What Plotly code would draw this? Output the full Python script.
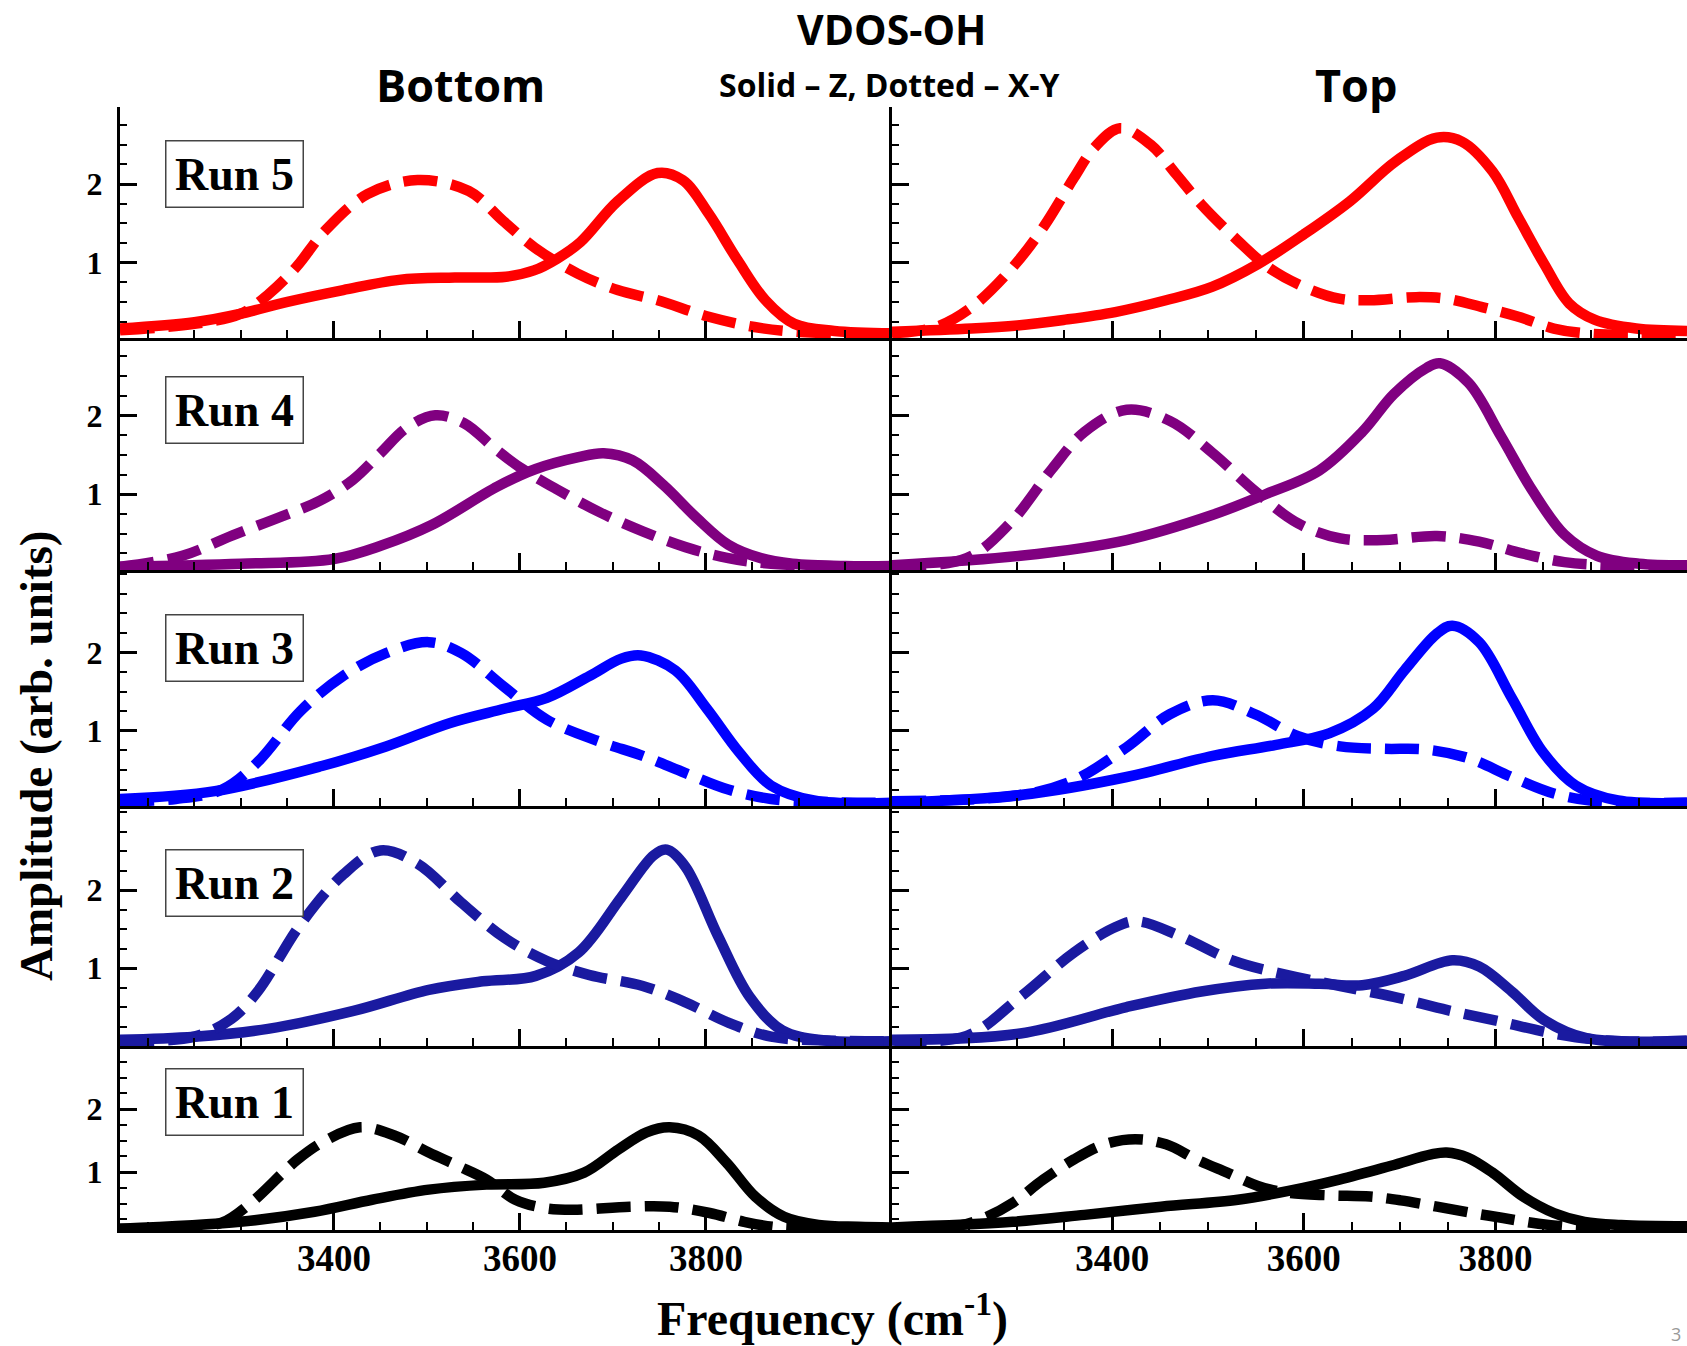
import plotly.graph_objects as go

W, H = 1687, 1346

# ---- axes ------------------------------------------------------------
X_RANGE = [3170, 4000]
X_TICKS = [3400, 3600, 3800]
Y_TICKS = [1, 2]

RUNS = ["Run 5", "Run 4", "Run 3", "Run 2", "Run 1"]
RUN_COLORS = ["#ff0000", "#800080", "#0000ff", "#1a1aa0", "#000000"]
Y_RANGES = [[0.04, 2.98], [0.04, 2.98], [0.04, 3.05], [0.0, 3.08], [0.08, 3.0]]

# ---- VDOS-OH spectra: (frequency cm^-1, amplitude) ---------------------
# Bottom layer, Z component (solid)
BOTTOM_RUN5_Z = [(3170, 0.16), (3250, 0.24), (3300, 0.35), (3350, 0.5), (3410, 0.65), (3470, 0.78),
                 (3530, 0.81), (3585, 0.82), (3615, 0.9), (3640, 1.05), (3665, 1.26), (3705, 1.78),
                 (3748, 2.14), (3775, 2.05), (3803, 1.62), (3834, 1.03), (3864, 0.52), (3895, 0.22),
                 (3938, 0.13), (4000, 0.1)]
BOTTOM_RUN4_Z = [(3170, 0.08), (3300, 0.12), (3400, 0.18), (3451, 0.35), (3505, 0.61), (3576, 1.1),
                 (3617, 1.32), (3663, 1.47), (3690, 1.52), (3721, 1.43), (3755, 1.11), (3790, 0.7),
                 (3824, 0.36), (3859, 0.19), (3893, 0.12), (3950, 0.09), (4000, 0.09)]
BOTTOM_RUN3_Z = [(3170, 0.13), (3272, 0.23), (3387, 0.55), (3456, 0.8), (3525, 1.1), (3583, 1.28),
                 (3629, 1.42), (3675, 1.7), (3709, 1.92), (3730, 1.96), (3767, 1.77), (3801, 1.28),
                 (3836, 0.72), (3870, 0.3), (3916, 0.11), (4000, 0.08)]
BOTTOM_RUN2_Z = [(3170, 0.08), (3250, 0.12), (3329, 0.22), (3421, 0.45), (3502, 0.72), (3560, 0.83),
                 (3617, 0.9), (3663, 1.2), (3709, 1.91), (3744, 2.45), (3758, 2.52), (3778, 2.3),
                 (3813, 1.41), (3847, 0.63), (3882, 0.2), (3928, 0.07), (4000, 0.06)]
BOTTOM_RUN1_Z = [(3170, 0.1), (3299, 0.21), (3379, 0.37), (3441, 0.56), (3502, 0.72), (3564, 0.8),
                 (3626, 0.83), (3669, 0.99), (3706, 1.36), (3736, 1.63), (3761, 1.71), (3792, 1.58),
                 (3822, 1.15), (3853, 0.61), (3884, 0.29), (3921, 0.16), (3964, 0.13), (4000, 0.12)]

# Bottom layer, X-Y component (dashed)
BOTTOM_RUN5_XY = [(3170, 0.14), (3250, 0.22), (3300, 0.35), (3330, 0.6), (3360, 0.95), (3390, 1.4),
                  (3436, 1.87), (3490, 2.05), (3545, 1.91), (3582, 1.53), (3616, 1.19), (3662, 0.86),
                  (3705, 0.65), (3748, 0.52), (3803, 0.31), (3852, 0.18), (3895, 0.12), (3950, 0.1),
                  (4000, 0.1)]
BOTTOM_RUN4_XY = [(3170, 0.08), (3237, 0.22), (3291, 0.48), (3344, 0.72), (3385, 0.92), (3420, 1.18),
                  (3450, 1.52), (3478, 1.84), (3509, 2.0), (3540, 1.9), (3573, 1.58), (3600, 1.34),
                  (3640, 1.06), (3686, 0.77), (3732, 0.53), (3778, 0.33), (3824, 0.19), (3870, 0.12),
                  (3930, 0.09), (4000, 0.08)]
BOTTOM_RUN3_XY = [(3170, 0.1), (3230, 0.13), (3280, 0.25), (3318, 0.6), (3364, 1.25), (3410, 1.7),
                  (3456, 1.99), (3502, 2.13), (3537, 1.99), (3583, 1.56), (3629, 1.14), (3686, 0.86),
                  (3732, 0.68), (3778, 0.46), (3824, 0.25), (3870, 0.13), (3930, 0.09), (4000, 0.08)]
BOTTOM_RUN2_XY = [(3170, 0.06), (3250, 0.12), (3290, 0.35), (3318, 0.7), (3364, 1.56), (3410, 2.2),
                  (3450, 2.51), (3490, 2.34), (3537, 1.84), (3583, 1.39), (3629, 1.09), (3675, 0.91),
                  (3732, 0.77), (3778, 0.56), (3824, 0.3), (3870, 0.12), (3930, 0.07), (4000, 0.06)]
BOTTOM_RUN1_XY = [(3170, 0.1), (3240, 0.12), (3280, 0.2), (3310, 0.5), (3361, 1.2), (3391, 1.5),
                  (3428, 1.71), (3465, 1.58), (3502, 1.31), (3533, 1.1), (3564, 0.88), (3595, 0.56),
                  (3626, 0.43), (3656, 0.4), (3718, 0.45), (3761, 0.45), (3804, 0.35), (3841, 0.21),
                  (3872, 0.13), (3920, 0.1), (4000, 0.1)]

# Top layer, Z component (solid)
TOP_RUN5_Z = [(3170, 0.12), (3253, 0.16), (3301, 0.2), (3349, 0.27), (3403, 0.37), (3456, 0.52),
              (3504, 0.69), (3552, 0.98), (3600, 1.36), (3648, 1.78), (3696, 2.29), (3739, 2.59),
              (3765, 2.54), (3797, 2.16), (3824, 1.57), (3851, 0.98), (3877, 0.48), (3904, 0.27),
              (3947, 0.16), (4000, 0.13)]
TOP_RUN4_Z = [(3170, 0.1), (3304, 0.22), (3415, 0.42), (3505, 0.74), (3560, 1.0), (3616, 1.3),
              (3661, 1.79), (3694, 2.27), (3728, 2.6), (3742, 2.66), (3772, 2.41), (3806, 1.73),
              (3839, 1.04), (3872, 0.49), (3906, 0.22), (3950, 0.12), (4000, 0.1)]
TOP_RUN3_Z = [(3170, 0.08), (3304, 0.18), (3415, 0.41), (3505, 0.68), (3571, 0.82), (3627, 0.97),
              (3672, 1.28), (3705, 1.77), (3739, 2.24), (3755, 2.34), (3783, 2.13), (3817, 1.42),
              (3850, 0.72), (3884, 0.3), (3928, 0.11), (4000, 0.08)]
TOP_RUN2_Z = [(3170, 0.08), (3304, 0.16), (3415, 0.5), (3493, 0.7), (3560, 0.8), (3616, 0.8),
              (3661, 0.78), (3705, 0.9), (3755, 1.1), (3783, 1.02), (3817, 0.7), (3850, 0.34),
              (3895, 0.1), (4000, 0.07)]
TOP_RUN1_Z = [(3170, 0.12), (3296, 0.21), (3371, 0.32), (3451, 0.45), (3531, 0.56), (3584, 0.7),
              (3637, 0.88), (3691, 1.1), (3733, 1.28), (3749, 1.31), (3771, 1.23), (3797, 0.99),
              (3829, 0.61), (3861, 0.35), (3893, 0.21), (3931, 0.16), (4000, 0.14)]

# Top layer, X-Y component (dashed)
TOP_RUN5_XY = [(3170, 0.1), (3216, 0.18), (3253, 0.43), (3296, 0.94), (3328, 1.45), (3360, 2.08),
               (3381, 2.46), (3408, 2.71), (3440, 2.5), (3467, 2.12), (3493, 1.74), (3531, 1.28),
               (3563, 0.94), (3600, 0.69), (3637, 0.54), (3669, 0.52), (3717, 0.56), (3749, 0.54),
               (3787, 0.43), (3824, 0.31), (3861, 0.16), (3893, 0.1), (3950, 0.08), (4000, 0.08)]
TOP_RUN4_XY = [(3170, 0.08), (3248, 0.19), (3293, 0.63), (3337, 1.32), (3371, 1.79), (3415, 2.07),
               (3460, 1.93), (3505, 1.52), (3549, 1.04), (3594, 0.63), (3638, 0.44), (3683, 0.42),
               (3739, 0.47), (3783, 0.4), (3828, 0.25), (3872, 0.14), (3917, 0.1), (4000, 0.08)]
TOP_RUN3_XY = [(3170, 0.1), (3304, 0.18), (3360, 0.37), (3415, 0.79), (3460, 1.21), (3505, 1.39),
               (3549, 1.21), (3594, 0.93), (3638, 0.8), (3683, 0.77), (3728, 0.76), (3772, 0.65),
               (3817, 0.41), (3861, 0.2), (3906, 0.1), (4000, 0.08)]
TOP_RUN2_XY = [(3170, 0.07), (3248, 0.13), (3304, 0.63), (3360, 1.2), (3404, 1.53), (3426, 1.6),
               (3471, 1.41), (3527, 1.09), (3583, 0.91), (3638, 0.77), (3694, 0.63), (3750, 0.46),
               (3806, 0.31), (3861, 0.16), (3917, 0.07), (4000, 0.06)]
TOP_RUN1_XY = [(3170, 0.1), (3240, 0.15), (3269, 0.29), (3296, 0.51), (3328, 0.88), (3360, 1.2),
               (3392, 1.44), (3424, 1.52), (3456, 1.44), (3488, 1.2), (3520, 0.99), (3552, 0.78),
               (3584, 0.67), (3627, 0.63), (3669, 0.61), (3701, 0.55), (3739, 0.45), (3776, 0.35),
               (3808, 0.27), (3845, 0.18), (3890, 0.12), (4000, 0.1)]

# (row, column) -> (solid Z, dashed X-Y); row 0 is Run 5, column 0 is Bottom
PANELS = {
    (0, 0): (BOTTOM_RUN5_Z, BOTTOM_RUN5_XY), (0, 1): (TOP_RUN5_Z, TOP_RUN5_XY),
    (1, 0): (BOTTOM_RUN4_Z, BOTTOM_RUN4_XY), (1, 1): (TOP_RUN4_Z, TOP_RUN4_XY),
    (2, 0): (BOTTOM_RUN3_Z, BOTTOM_RUN3_XY), (2, 1): (TOP_RUN3_Z, TOP_RUN3_XY),
    (3, 0): (BOTTOM_RUN2_Z, BOTTOM_RUN2_XY), (3, 1): (TOP_RUN2_Z, TOP_RUN2_XY),
    (4, 0): (BOTTOM_RUN1_Z, BOTTOM_RUN1_XY), (4, 1): (TOP_RUN1_Z, TOP_RUN1_XY),
}

# ---- panel geometry (pixels) -------------------------------------------
ROW_EDGES = [107, 338, 570, 806, 1046, 1230]
COL_EDGES = [120, 892, 1687]
RUN_BOX_Y = [174.5, 410, 648, 883, 1102]
RUN_BOX_X = 234

SERIF = "Liberation Serif"
SANS = "Open Sans"


def px_x(p):
    return p / W


def px_y(p):
    return 1 - p / H


fig = go.Figure()
layout = dict(
    width=W, height=H,
    margin=dict(l=0, r=0, t=0, b=0),
    paper_bgcolor="white", plot_bgcolor="white",
    showlegend=False,
)

tick_font = dict(family=SERIF, color="black", weight="bold")

for (r, c), (solid, dashed) in PANELS.items():
    n = r * 2 + c + 1
    sfx = "" if n == 1 else str(n)
    color = RUN_COLORS[r]
    for series, dash in ((solid, "solid"), (dashed, "34px,14px")):
        fig.add_trace(go.Scatter(
            x=[p[0] for p in series], y=[p[1] for p in series],
            mode="lines",
            line=dict(color=color, width=10.5, dash=dash, shape="spline", smoothing=1.0),
            xaxis="x" + sfx, yaxis="y" + sfx, hoverinfo="skip",
        ))

    layout["xaxis" + sfx] = dict(
        domain=[px_x(COL_EDGES[c]), px_x(COL_EDGES[c + 1])],
        anchor="y" + sfx, range=X_RANGE,
        showline=True, linecolor="black", linewidth=3,
        showgrid=False, zeroline=False,
        ticks="inside", ticklen=17, tickwidth=2.5, tickcolor="black",
        tickmode="array", tickvals=X_TICKS,
        minor=dict(ticks="inside", ticklen=8, tickwidth=2, tickcolor="black",
                   tickmode="linear", tick0=3200, dtick=50),
        showticklabels=(r == 4),
        tickfont=dict(size=37, **tick_font),
        ticklabelstandoff=-6,
    )
    layout["yaxis" + sfx] = dict(
        domain=[px_y(ROW_EDGES[r + 1]), px_y(ROW_EDGES[r])],
        anchor="x" + sfx, range=Y_RANGES[r],
        showline=True, linecolor="black", linewidth=3,
        showgrid=False, zeroline=False,
        ticks="inside", ticklen=17, tickwidth=2.5, tickcolor="black",
        tickmode="array", tickvals=Y_TICKS,
        minor=dict(ticks="inside", ticklen=7, tickwidth=2, tickcolor="black",
                   tickmode="linear", tick0=0, dtick=0.25),
        showticklabels=(c == 0),
        tickfont=dict(size=32, **tick_font),
        ticklabelstandoff=8,
    )

annotations = [
    dict(text="<b>VDOS-OH</b>", x=px_x(891), y=px_y(29),
         font=dict(family=SANS, size=41, color="black")),
    dict(text="<b>Bottom</b>", x=px_x(461), y=px_y(84),
         font=dict(family=SANS, size=45, color="black")),
    dict(text="<b>Top</b>", x=px_x(1356), y=px_y(84),
         font=dict(family=SANS, size=45, color="black")),
    dict(text="<b>Solid \u2013 Z, Dotted \u2013 X-Y</b>", x=px_x(889), y=px_y(84),
         font=dict(family=SANS, size=32, color="black")),
    dict(text="<b>Frequency (cm<sup>-1</sup>)</b>", x=px_x(832), y=px_y(1315),
         font=dict(family=SERIF, size=48, color="black")),
    dict(text="<b>Amplitude (arb. units)</b>", x=px_x(36), y=px_y(756), textangle=-90,
         font=dict(family=SERIF, size=47, color="black")),
    dict(text="3", x=px_x(1676), y=px_y(1334),
         font=dict(family=SANS, size=18, color="#999999")),
]
for r, label in enumerate(RUNS):
    annotations.append(dict(
        text="<b>" + label + "</b>", x=px_x(RUN_BOX_X), y=px_y(RUN_BOX_Y[r]),
        width=134, height=63, borderwidth=1.5, bordercolor="#444444", borderpad=1,
        bgcolor="white", font=dict(family=SERIF, size=46, color="black"),
    ))
for a in annotations:
    a.update(xref="paper", yref="paper", showarrow=False, xanchor="center", yanchor="middle")
layout["annotations"] = annotations

fig.update_layout(**layout)
fig.write_html("out.html")
